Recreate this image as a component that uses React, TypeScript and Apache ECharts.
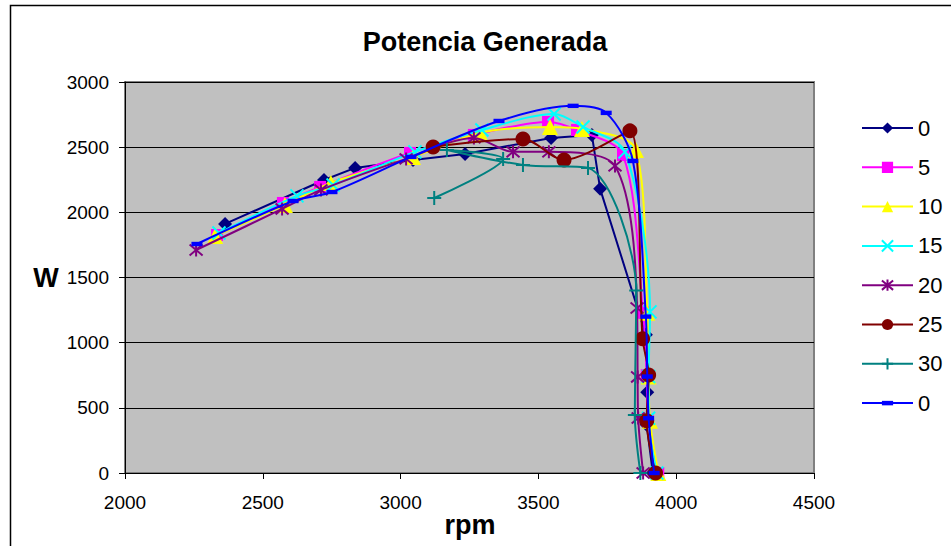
import React, { useEffect, useRef } from "react";
import * as echarts from "echarts";

const titleText = "Potencia Generada";
const xName = "rpm";
const yName = "W";
const legendLabels = ["0", "5", "10", "15", "20", "25", "30", "0"];

const rpmA = [2363, 2722, 2835, 3045, 3234, 3546, 3694, 3724, 3890, 3895, 3893, 3915];
const powA = [1911, 2248, 2341, 2402, 2448, 2571, 2594, 2180, 1060, 620, 370, 0];

const rpmB = [2334, 2573, 2708, 3034, 3266, 3535, 3640, 3807, 3880, 3893, 3897, 3935];
const powB = [1826, 2072, 2195, 2456, 2594, 2694, 2632, 2440, 1230, 750, 400, 0];

const rpmC = [2327, 2580, 2747, 3045, 3288, 3542, 3658, 3854, 3895, 3900, 3905, 3935];
const powC = [1819, 2057, 2226, 2425, 2609, 2655, 2640, 2479, 1230, 740, 400, 0];

const rpmD = [2341, 2624, 2755, 3052, 3295, 3557, 3662, 3814, 3905, 3900, 3900, 3930];
const powD = [1842, 2126, 2210, 2464, 2632, 2755, 2655, 2464, 1236, 740, 420, 0];

const rpmE = [2258, 2570, 2711, 3020, 3266, 3408, 3538, 3778, 3858, 3860, 3862, 3880];
const powE = [1711, 2026, 2172, 2410, 2571, 2464, 2464, 2356, 1266, 737, 422, 0];

const rpmF = [3118, 3444, 3593, 3832, 3878, 3900, 3893, 3925];
const powF = [2502, 2563, 2402, 2625, 1030, 752, 400, 0];

const rpmG = [3122, 3372, 3168, 3444, 3680, 3855, 3850, 3870];
const powG = [2110, 2410, 2479, 2364, 2341, 1400, 445, 0];

const rpmH = [2261, 2610, 2751, 3038, 3357, 3626, 3746, 3843, 3890, 3895, 3900, 3920];
const powH = [1757, 2087, 2156, 2425, 2701, 2817, 2763, 2394, 1200, 740, 420, 0];

const xTicks = [2000, 2500, 3000, 3500, 4000, 4500];
const yTicks = [0, 500, 1000, 1500, 2000, 2500, 3000];

const zip = (xs: number[], ys: number[]) => xs.map((x, i) => [x, ys[i]]);

const X_PATH = "path://M0,0L10,10M10,0L0,10";
const STAR_PATH = "path://M0,0L10,10M10,0L0,10M5,-1L5,11";
const PLUS_PATH = "path://M5,0L5,10M0,5L10,5";
const DASH_PATH = "path://M0,0M10,10M0,3L10,3L10,7L0,7Z";

export default function App() {
  const ref = useRef<HTMLDivElement>(null);
  useEffect(() => {
    if (!ref.current) return;
    const chart = echarts.init(ref.current, null, { renderer: "svg" });
    const font = "Arial, 'Liberation Sans', sans-serif";
    const defs = [
      { id: "s0", data: zip(rpmA, powA), color: "#000080", symbol: "diamond", size: 14, smooth: false },
      { id: "s5", data: zip(rpmB, powB), color: "#FF00FF", symbol: "rect", size: 12, smooth: 0.3 },
      { id: "s10", data: zip(rpmC, powC), color: "#FFFF00", symbol: "triangle", size: 16, smooth: 0.3 },
      { id: "s15", data: zip(rpmD, powD), color: "#00FFFF", symbol: X_PATH, size: 13, smooth: 0.3, stroke: true },
      { id: "s20", data: zip(rpmE, powE), color: "#800080", symbol: STAR_PATH, size: 13, smooth: 0.3, stroke: true },
      { id: "s25", data: zip(rpmF, powF), color: "#800000", symbol: "circle", size: 15, smooth: 0.3 },
      { id: "s30", data: zip(rpmG, powG), color: "#008080", symbol: PLUS_PATH, size: 14, smooth: 0.3, stroke: true },
      { id: "s0b", data: zip(rpmH, powH), color: "#0000FF", symbol: DASH_PATH, size: 11, smooth: 0.3 },
    ];
    const series = defs.map((d, i) => ({
      type: "line",
      name: d.id,
      data: d.data,
      smooth: d.smooth,
      symbol: d.symbol,
      symbolSize: d.size,
      showAllSymbol: true,
      lineStyle: { color: d.color, width: 2 },
      itemStyle: d.stroke
        ? { color: d.color, borderColor: d.color, borderWidth: 2 }
        : { color: d.color, borderWidth: 0 },
      emphasis: { disabled: true },
      z: 2 + i,
    }));
    const labelMap: Record<string, string> = {};
    defs.forEach((d, i) => (labelMap[d.id] = legendLabels[i]));
    const plain = (v: number) => String(v);
    chart.setOption({
      animation: false,
      backgroundColor: "#FFFFFF",
      textStyle: { fontFamily: font },
      grid: {
        left: 125,
        top: 82,
        right: 137,
        bottom: 73,
        show: true,
        backgroundColor: "#C0C0C0",
        borderColor: "#808080",
        borderWidth: 2,
      },
      xAxis: {
        type: "value",
        min: xTicks[0],
        max: xTicks[xTicks.length - 1],
        interval: 500,
        axisLine: { show: true, onZero: false, lineStyle: { color: "#000", width: 1 } },
        axisTick: { show: true, length: 6, lineStyle: { color: "#000" } },
        axisLabel: { color: "#000", fontSize: 19, margin: 20, fontFamily: font, formatter: plain },
        splitLine: { show: false },
      },
      yAxis: {
        type: "value",
        min: yTicks[0],
        max: yTicks[yTicks.length - 1],
        interval: 500,
        axisLine: { show: true, onZero: false, lineStyle: { color: "#000", width: 1 } },
        axisTick: { show: true, length: 6, lineStyle: { color: "#000" } },
        axisLabel: { color: "#000", fontSize: 19, margin: 16, fontFamily: font, formatter: plain },
        splitLine: { show: true, lineStyle: { color: "#000", width: 1 } },
      },
      legend: {
        orient: "vertical",
        left: 856,
        top: 112,
        itemWidth: 51,
        itemHeight: 14,
        itemGap: 17.3,
        formatter: (n: string) => labelMap[n] ?? n,
        textStyle: { fontSize: 22, color: "#000", fontFamily: font, lineHeight: 22 },
        data: defs.map((d) => d.id),
      },
      graphic: [
        {
          type: "rect",
          shape: { x: 10.5, y: 5.5, width: 1100, height: 1100 },
          style: { fill: "none", stroke: "#000", lineWidth: 1.5 },
          silent: true,
          z: -10,
        },
        {
          type: "text",
          x: 485,
          y: 42,
          style: {
            text: titleText,
            font: "bold 27px " + font,
            fill: "#000",
            textAlign: "center",
            textVerticalAlign: "middle",
          },
        },
        {
          type: "text",
          x: 46,
          y: 278,
          style: {
            text: yName,
            font: "bold 27px " + font,
            fill: "#000",
            textAlign: "center",
            textVerticalAlign: "middle",
          },
        },
        {
          type: "text",
          x: 470,
          y: 525,
          style: {
            text: xName,
            font: "bold 27px " + font,
            fill: "#000",
            textAlign: "center",
            textVerticalAlign: "middle",
          },
        },
      ],
      series,
    });
    return () => chart.dispose();
  }, []);
  return (
    <div
      ref={ref}
      style={{ position: "absolute", left: 0, top: 0, width: 951, height: 546 }}
    />
  );
}
